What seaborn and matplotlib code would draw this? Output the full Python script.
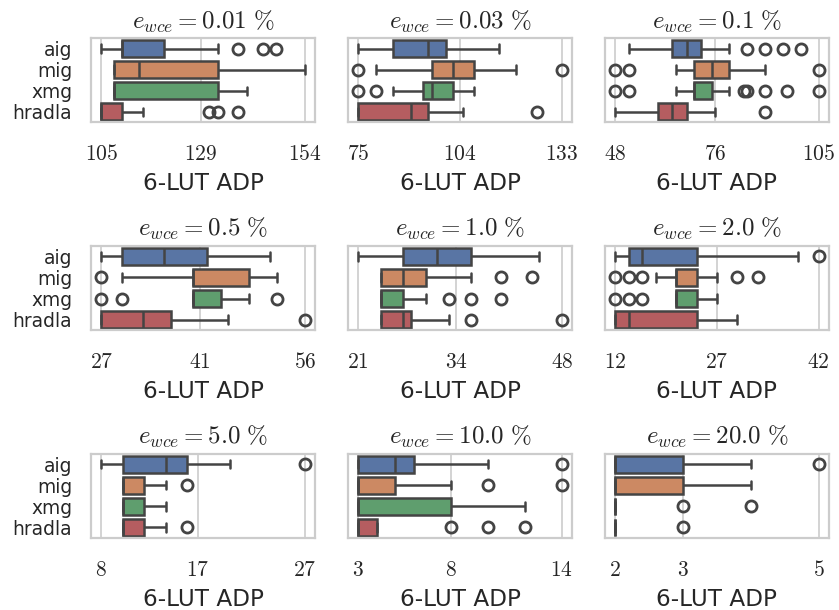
import matplotlib
matplotlib.use("Agg")
import matplotlib.pyplot as plt
import pandas as pd
import seaborn as sns

methods = ["aig", "mig", "xmg", "hradla"]
errors = ["0.01", "0.03", "0.1", "0.5", "1.0", "2.0", "5.0", "10.0", "20.0"]

# e_wce = 0.01 %
e0p01_aig = [105, 110, 110, 110, 110, 110, 110, 110, 110, 115, 118, 120, 120, 133, 138, 144, 147]
e0p01_mig = [108, 108, 114, 133, 154]
e0p01_xmg = [108, 108, 108, 133, 140]
e0p01_hradla = [105, 105, 105, 105, 105, 105, 105, 105, 105, 108, 110, 110, 110, 115, 131, 133, 138]
# e_wce = 0.03 %
e0p03_aig = [75, 85, 95, 100, 115]
e0p03_mig = [75, 80, 96, 99, 102, 105, 108, 120, 133]
e0p03_xmg = [75, 80, 85, 93.5, 94, 95, 96, 98, 100, 102, 102, 102, 108]
e0p03_hradla = [75, 75, 75, 85, 90, 92, 95, 105, 126]
# e_wce = 0.1 %
e0p1_aig = [52, 64, 64, 64, 64, 64, 65, 66, 67, 68, 68, 69, 70, 71, 72, 72, 80, 85, 90, 95, 100]
e0p1_mig = [48, 52, 65, 70, 72, 74, 75, 77, 78, 80, 80, 90, 105]
e0p1_xmg = [48, 52, 65, 70, 70, 70, 70, 70, 70, 70, 70, 70, 70, 71, 72, 73, 74, 75, 75, 80, 84, 85, 90, 96, 105]
e0p1_hradla = [48, 60, 60, 62, 64, 66, 68, 76, 90]
# e_wce = 0.5 %
e0p5_aig = [27, 30, 36, 42, 51]
e0p5_mig = [27, 30, 40, 40, 40, 44, 48, 48, 52]
e0p5_xmg = [27, 30, 40, 40, 40, 42, 44, 48, 52]
e0p5_hradla = [27, 27, 27, 30, 33, 35, 37, 45, 56]
# e_wce = 1.0 %
e1p0_aig = [21, 27, 31.5, 36, 45]
e1p0_mig = [24, 24, 24, 24, 25, 26, 27, 28, 29, 30, 36, 40, 44]
e1p0_xmg = [24, 24, 24, 24, 24, 24, 24, 24, 24, 25, 26, 27, 27, 30, 33, 36, 40]
e1p0_hradla = [24, 24, 24, 24, 25, 26, 27, 27, 28, 28, 33, 36, 48]
# e_wce = 2.0 %
e2p0_aig = [12, 14, 14, 15, 16, 20, 24, 39, 42]
e2p0_mig = [12, 14, 16, 18, 21, 21, 21, 21, 21, 22, 23, 24, 24, 24, 27, 30, 33]
e2p0_xmg = [12, 14, 16, 21, 21, 21, 21, 22, 23, 24, 24, 24, 27]
e2p0_hradla = [12, 12, 14, 24, 30]
# e_wce = 5.0 %
e5p0_aig = [8, 10, 10, 12, 14, 15, 16, 20, 27]
e5p0_mig = [10, 10, 10, 10, 10, 11, 12, 14, 16]
e5p0_xmg = [10, 10, 10, 12, 14]
e5p0_hradla = [10, 10, 10, 10, 10, 11, 12, 14, 16]
# e_wce = 10.0 %
e10p0_aig = [3, 3, 3, 4, 5, 5, 6, 10, 14]
e10p0_mig = [3, 3, 3, 3, 3, 3, 3, 4, 4, 5, 8, 10, 14]
e10p0_xmg = [3, 3, 3, 8, 12]
e10p0_hradla = [3, 3, 3, 3, 3, 3, 3, 3, 3, 4, 8, 10, 12]
# e_wce = 20.0 %
e20p0_aig = [2, 2, 2, 2, 2, 3, 3, 4, 5]
e20p0_mig = [2, 2, 2, 3, 4]
e20p0_xmg = [2, 2, 2, 2, 2, 2, 2, 3, 4]
e20p0_hradla = [2, 2, 2, 2, 3]

ticks_0p01 = [105, 129, 154]
ticks_0p03 = [75, 104, 133]
ticks_0p1 = [48, 76, 105]
ticks_0p5 = [27, 41, 56]
ticks_1p0 = [21, 34, 48]
ticks_2p0 = [12, 27, 42]
ticks_5p0 = [8, 17, 27]
ticks_10p0 = [3, 8, 14]
ticks_20p0 = [2, 3, 5]

panels = [
    ("0.01", [e0p01_aig, e0p01_mig, e0p01_xmg, e0p01_hradla], ticks_0p01),
    ("0.03", [e0p03_aig, e0p03_mig, e0p03_xmg, e0p03_hradla], ticks_0p03),
    ("0.1", [e0p1_aig, e0p1_mig, e0p1_xmg, e0p1_hradla], ticks_0p1),
    ("0.5", [e0p5_aig, e0p5_mig, e0p5_xmg, e0p5_hradla], ticks_0p5),
    ("1.0", [e1p0_aig, e1p0_mig, e1p0_xmg, e1p0_hradla], ticks_1p0),
    ("2.0", [e2p0_aig, e2p0_mig, e2p0_xmg, e2p0_hradla], ticks_2p0),
    ("5.0", [e5p0_aig, e5p0_mig, e5p0_xmg, e5p0_hradla], ticks_5p0),
    ("10.0", [e10p0_aig, e10p0_mig, e10p0_xmg, e10p0_hradla], ticks_10p0),
    ("20.0", [e20p0_aig, e20p0_mig, e20p0_xmg, e20p0_hradla], ticks_20p0),
]

sns.set_theme(style="whitegrid")
plt.rcParams["font.family"] = ["DejaVu Sans"]
plt.rcParams["mathtext.fontset"] = "cm"

fig, axes = plt.subplots(3, 3, figsize=(8.39, 6.10), dpi=100, sharey=True)
fig.subplots_adjust(left=0.1085, right=0.988, top=0.9377, bottom=0.118,
                    wspace=0.147, hspace=1.46)

for ax, (err, series, ticks) in zip(axes.flat, panels):
    rows = []
    for m, vals in zip(methods, series):
        for v in vals:
            rows.append({"method": m, "adp": v})
    df = pd.DataFrame(rows)
    sns.boxplot(data=df, x="adp", y="method", hue="method", order=methods,
                hue_order=methods, palette="deep", legend=False, ax=ax,
                linewidth=1.8, linecolor="#444444", width=0.8,
                flierprops=dict(marker="o", markersize=8, markeredgewidth=2,
                                markerfacecolor="none", markeredgecolor="#444444"))
    ax.set_xticks(ticks)
    ax.set_xticklabels([f"${t}$" for t in ticks])
    ax.tick_params(axis="x", pad=9.5, labelsize=15.5)
    ax.tick_params(axis="y", pad=7.5, labelsize=13.4)
    ax.yaxis.grid(False)
    ax.xaxis.grid(True, color="#d0d0d0", linewidth=1.3)
    for s in ax.spines.values():
        s.set_color("#cccccc")
        s.set_linewidth(1.6)
    ax.set_xlabel("6-LUT ADP", fontsize=16.7, labelpad=6)
    ax.set_ylabel("")
    ax.set_title(r"$e_{wce} = %s\ \%%$" % err, fontsize=18, pad=7)

fig.savefig("out.png", dpi=100)
